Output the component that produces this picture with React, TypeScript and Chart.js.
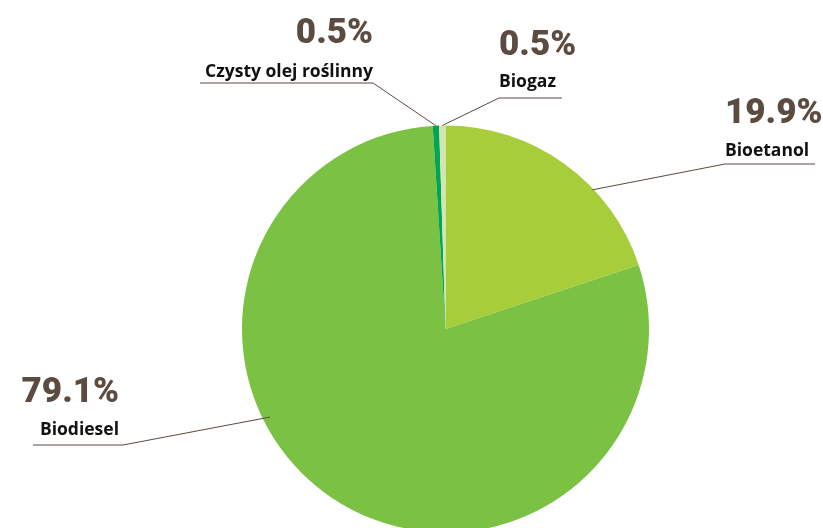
import React, { useEffect, useRef } from "react";
import { Chart, registerables } from "chart.js";

Chart.register(...registerables);

const categories = ["Bioetanol", "Biodiesel", "Czysty olej roślinny", "Biogaz"];
const shares = [19.9, 79.1, 0.5, 0.5];
const percentLabels = ["19.9%", "79.1%", "0.5%", "0.5%"];
const sliceColors = ["#a8cd3a", "#7bc143", "#00a651", "#d3e5b4"];

// label layout per slice: text anchor x, align, percent baseline, name baseline, underline y, underline end x, anchor position within slice
const labelLayout = [
  { x: 725, align: "left", pctY: 123, nameY: 156, lineY: 164, lineEndX: 815, frac: 0.65, rFrac: 0.995 },
  { x: 119, align: "right", pctY: 402, nameY: 435, lineY: 445, lineStartX: 123, lineEndX: 33, frac: 0.603, rFrac: 0.965 },
  { x: 373, align: "right", pctY: 43, nameY: 77, lineY: 83, lineEndX: 200, frac: 0.5, rFrac: 1 },
  { x: 499, align: "left", pctY: 55, nameY: 87, lineY: 98, lineEndX: 562, frac: 0.5, rFrac: 1 },
];

const labelPlugin = {
  id: "pieLabels",
  afterDatasetsDraw(chart: any) {
    const ctx = chart.ctx;
    const meta = chart.getDatasetMeta(0);
    ctx.save();
    meta.data.forEach((arc: any, i: number) => {
      const L: any = labelLayout[i];
      const p = arc.getProps(["x", "y", "startAngle", "endAngle", "outerRadius"], true);
      const a = p.startAngle + (p.endAngle - p.startAngle) * L.frac;
      const r = p.outerRadius * L.rFrac;
      const ax = p.x + Math.cos(a) * r;
      const ay = p.y + Math.sin(a) * r;
      const elbowX = L.lineStartX !== undefined ? L.lineStartX : L.x;
      ctx.beginPath();
      ctx.strokeStyle = "#5a4a42";
      ctx.lineWidth = 1;
      ctx.moveTo(ax, ay);
      ctx.lineTo(elbowX, L.lineY);
      ctx.lineTo(L.lineEndX, L.lineY);
      ctx.stroke();

      ctx.textAlign = L.align;
      ctx.textBaseline = "alphabetic";
      ctx.fillStyle = "#5c4b41";
      ctx.font = "900 35px Roboto";
      ctx.fillText(percentLabels[i], L.x, L.pctY);
      ctx.fillStyle = "#111111";
      ctx.font = "bold 17.5px 'Open Sans'";
      ctx.fillText(categories[i], L.x, L.nameY);
    });
    ctx.restore();
  },
};

export default function App() {
  const ref = useRef<HTMLCanvasElement | null>(null);
  useEffect(() => {
    if (!ref.current) return;
    const chart = new Chart(ref.current, {
      type: "pie",
      data: {
        labels: categories,
        datasets: [
          {
            data: shares,
            backgroundColor: sliceColors,
            borderWidth: 0,
          },
        ],
      },
      options: {
        animation: false,
        responsive: false,
        layout: { padding: { left: 242, top: 125.5, right: 174, bottom: 127.5 } },
        plugins: { legend: { display: false }, tooltip: { enabled: false } },
      },
      plugins: [labelPlugin],
    });
    return () => chart.destroy();
  }, []);
  return (
    <div style={{ position: "absolute", left: 0, top: 0, width: 823, height: 528, overflow: "hidden", background: "#fff" }}>
      <canvas ref={ref} width={823} height={660} style={{ display: "block" }} />
    </div>
  );
}
